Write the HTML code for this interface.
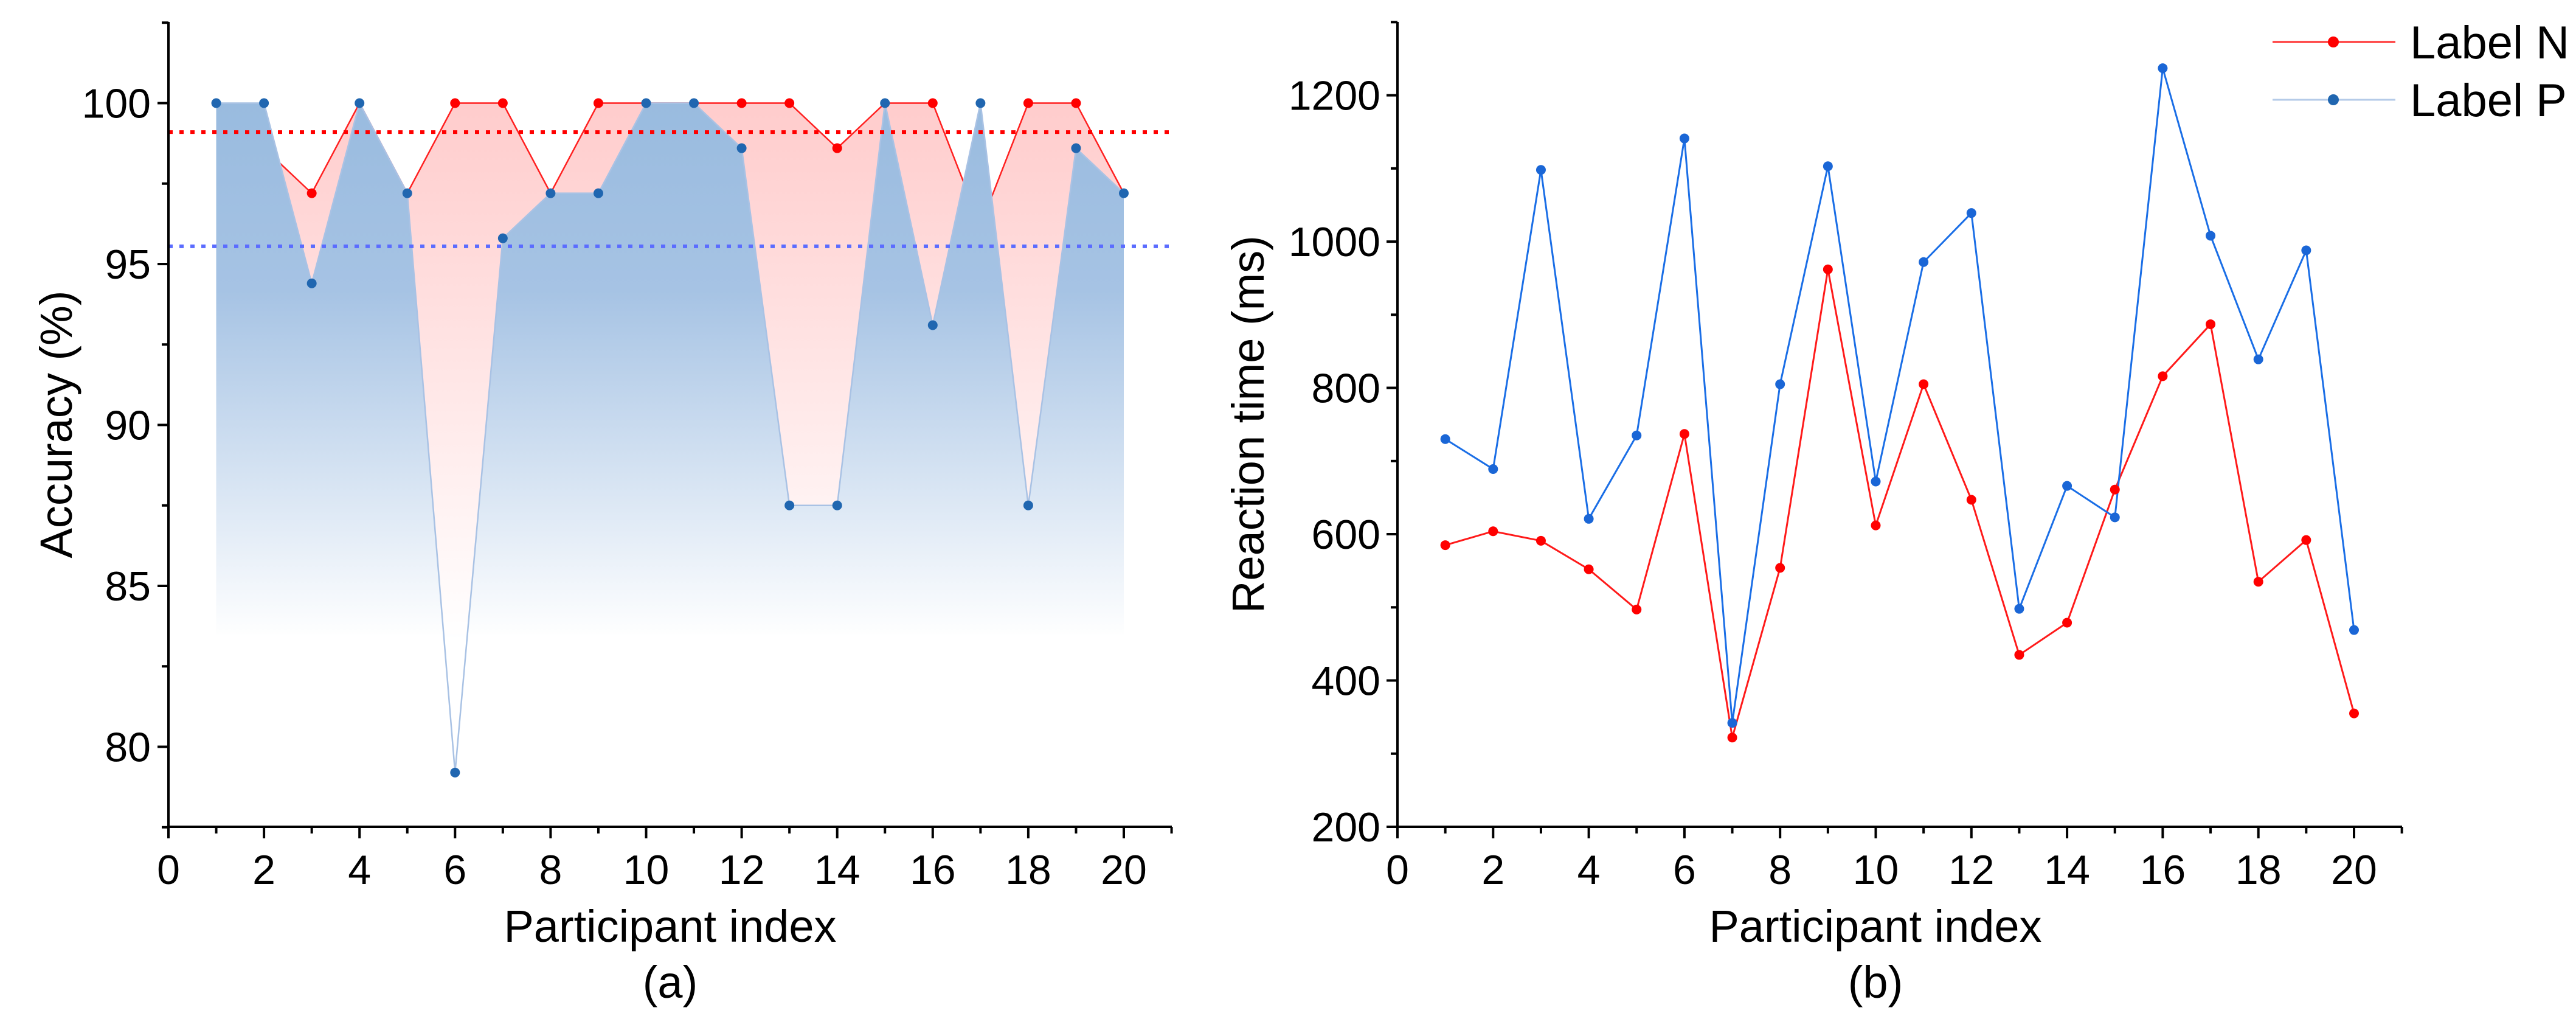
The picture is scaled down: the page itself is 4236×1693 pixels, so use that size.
<!DOCTYPE html>
<html><head><meta charset="utf-8"><style>
html,body{margin:0;padding:0;background:#fff;}
svg{display:block;font-family:"Liberation Sans",Arial,sans-serif;}
</style></head><body>
<svg id="fig" width="4236" height="1693" viewBox="0 0 4236 1693" xmlns="http://www.w3.org/2000/svg">
<defs>
<linearGradient id="gRed" gradientUnits="userSpaceOnUse" x1="0" y1="169" x2="0" y2="1050">
<stop offset="0" stop-color="#ffcccc"/><stop offset="1" stop-color="#ffffff"/></linearGradient>
<linearGradient id="gBlue" gradientUnits="userSpaceOnUse" x1="0" y1="169" x2="0" y2="1050">
<stop offset="0" stop-color="#99bbdf"/><stop offset="0.35" stop-color="#a6c3e4"/><stop offset="1" stop-color="#ffffff"/></linearGradient>
<clipPath id="clipA"><rect x="277" y="36" width="1650" height="1323"/></clipPath>
</defs>
<g id="chartA"></g>
<g id="chartB"></g>
</svg>
<script>
const participants=[1,2,3,4,5,6,7,8,9,10,11,12,13,14,15,16,17,18,19,20];
const accN=[100,98.6,97.2,100,97.2,100,100,97.2,100,100,100,100,100,98.6,100,100,96.2,100,100,97.2];
const accP=[100,100,94.4,100,97.2,79.2,95.8,97.2,97.2,100,100,98.6,87.5,87.5,100,93.1,100,87.5,98.6,97.2];
const meanN=99.1;
const meanP=95.55;
const accTicks=[80,85,90,95,100];
const xTicks=[0,2,4,6,8,10,12,14,16,18,20];
const rtN=[585,604,591,552,497,737,322,554,962,612,805,647,435,479,661,816,887,535,592,355];
const rtP=[730,689,1098,621,735,1141,342,805,1103,672,972,1039,498,666,623,1237,1008,839,988,469];
const rtTicks=[200,400,600,800,1000,1200];

const NS="http://www.w3.org/2000/svg";
function mk(parent,tag,attrs,text){const e=document.createElementNS(NS,tag);for(const k in attrs)e.setAttribute(k,attrs[k]);if(text!==undefined)e.textContent=text;parent.appendChild(e);return e;}

// ---- Chart A ----
const A=document.getElementById('chartA');
const ax=v=>277+(v-0)*(1848-277)/20;
const ay=v=>169.5+(100-v)*52.9;
const baseA=83.5;
function areaPts(vals){let p=participants.map((x,i)=>ax(x)+','+ay(vals[i]));p.push(ax(20)+','+ay(baseA));p.push(ax(1)+','+ay(baseA));return p.join(' ');}
const gA=mk(A,'g',{'clip-path':'url(#clipA)'});
let e=mk(gA,'polygon',{points:areaPts(accN),fill:'url(#gRed)'});


e=mk(gA,'polygon',{points:areaPts(accP),fill:'url(#gBlue)'});


// red line only where above blue: draw full red line then blue area covers; redraw blue area after red line
const redLine=mk(gA,'polyline',{points:participants.map((x,i)=>ax(x)+','+ay(accN[i])).join(' '),fill:'none',stroke:'#ff2020','stroke-width':2.5});


e=mk(gA,'polygon',{points:areaPts(accP),fill:'url(#gBlue)'});


e=mk(gA,'polyline',{points:participants.map((x,i)=>ax(x)+','+ay(accP[i])).join(' '),fill:'none',stroke:'#a9c2e4','stroke-width':2.5});


e=mk(gA,'line',{x1:277,x2:1927,y1:ay(meanN),y2:ay(meanN),stroke:'#ff0000','stroke-width':6,'stroke-dasharray':'7 11'});


e=mk(gA,'line',{x1:277,x2:1927,y1:ay(meanP),y2:ay(meanP),stroke:'#5b6cff','stroke-width':6,'stroke-dasharray':'7 11'});


participants.forEach((x,i)=>{
 if(accN[i]>accP[i]+0.01){const c=mk(A,'circle',{cx:ax(x),cy:ay(accN[i]),r:8,fill:'#ff0000'});
 
 }
});
participants.forEach((x,i)=>{
 if(!(accN[i]>accP[i]+0.01)||true){ if(accN[i]>accP[i]+0.01 && false) return;}
 const c=mk(A,'circle',{cx:ax(x),cy:ay(accP[i]),r:8,fill:'#2066b0'});
 
 
});
// axes A
e=mk(A,'path',{d:`M277,36 V1359 H1927`,fill:'none',stroke:'#000','stroke-width':4});


for(let v=77.5;v<=102.5;v+=2.5){const major=accTicks.includes(v);mk(A,'line',{x1:277,x2:major?259:266,y1:ay(v),y2:ay(v),stroke:'#000','stroke-width':4});}
accTicks.forEach(v=>{const t=mk(A,'text',{x:248,y:ay(v)+24,'text-anchor':'end','font-size':68},String(v));
 
 });
for(let v=0;v<=21;v++){const major=v%2===0;mk(A,'line',{x1:ax(v),x2:ax(v),y1:1359,y2:major?1378:1370,stroke:'#000','stroke-width':4});}
xTicks.forEach(v=>{const t=mk(A,'text',{x:ax(v),y:1453,'text-anchor':'middle','font-size':68},String(v));
 
 });
e=mk(A,'text',{x:(277+1927)/2,y:1548,'text-anchor':'middle','font-size':74},'Participant index');


e=mk(A,'text',{x:(277+1927)/2,y:1640,'text-anchor':'middle','font-size':74},'(a)');


e=mk(A,'text',{x:0,y:0,'text-anchor':'middle','font-size':74,transform:`translate(118,${(36+1359)/2}) rotate(-90)`},'Accuracy (%)');



// ---- Chart B ----
const B=document.getElementById('chartB');
const bx=v=>2298+v*(3871-2298)/20;
const by=v=>1359-(v-200)*(1359-156.6)/1000;
e=mk(B,'polyline',{points:participants.map((x,i)=>bx(x)+','+by(rtN[i])).join(' '),fill:'none',stroke:'#ff1a1a','stroke-width':3});


e=mk(B,'polyline',{points:participants.map((x,i)=>bx(x)+','+by(rtP[i])).join(' '),fill:'none',stroke:'#1a6ee6','stroke-width':3});


participants.forEach((x,i)=>{const c=mk(B,'circle',{cx:bx(x),cy:by(rtN[i]),r:8,fill:'#ff0000'});
 
 });
participants.forEach((x,i)=>{const c=mk(B,'circle',{cx:bx(x),cy:by(rtP[i]),r:8,fill:'#1a66d6'});
 
 });
e=mk(B,'path',{d:`M2298,36 V1359 H3950`,fill:'none',stroke:'#000','stroke-width':4});


for(let v=200;v<=1300;v+=100){const major=v%200===0;mk(B,'line',{x1:2298,x2:major?2280:2287,y1:by(v),y2:by(v),stroke:'#000','stroke-width':4});}
rtTicks.forEach(v=>{const t=mk(B,'text',{x:2270,y:by(v)+24,'text-anchor':'end','font-size':68},String(v));
 
 });
for(let v=0;v<=21;v++){const major=v%2===0;mk(B,'line',{x1:bx(v),x2:bx(v),y1:1359,y2:major?1378:1370,stroke:'#000','stroke-width':4});}
xTicks.forEach(v=>{const t=mk(B,'text',{x:bx(v),y:1453,'text-anchor':'middle','font-size':68},String(v));
 
 });
e=mk(B,'text',{x:(2298+3950)/2-40,y:1548,'text-anchor':'middle','font-size':74},'Participant index');


e=mk(B,'text',{x:(2298+3950)/2-40,y:1640,'text-anchor':'middle','font-size':74},'(b)');


e=mk(B,'text',{x:0,y:0,'text-anchor':'middle','font-size':74,transform:`translate(2078,${(36+1359)/2}) rotate(-90)`},'Reaction time (ms)');


// legend
const L=mk(B,'g',{});


mk(L,'line',{x1:3737,x2:3939,y1:69,y2:69,stroke:'#ff3030','stroke-width':3});
mk(L,'circle',{cx:3837,cy:69,r:9,fill:'#ff0000'});
e=mk(L,'text',{x:3963,y:96,'font-size':76},'Label N');


mk(L,'line',{x1:3737,x2:3939,y1:164,y2:164,stroke:'#b5cbe8','stroke-width':3});
mk(L,'circle',{cx:3837,cy:164,r:9,fill:'#2066b0'});
e=mk(L,'text',{x:3963,y:191,'font-size':76},'Label P');


</script>
</body></html>
